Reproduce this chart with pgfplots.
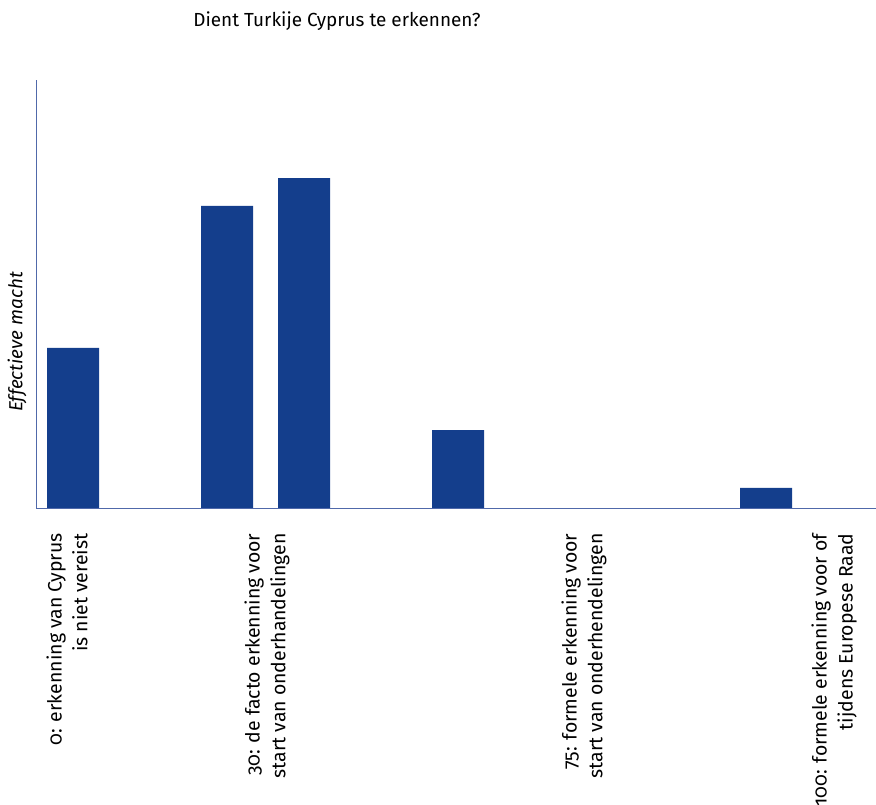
\documentclass[border=0pt]{standalone}
\usepackage{pgfplots}
\pgfplotsset{compat=1.18}
\usepackage{fontspec}
\setmainfont{Fira Sans}[Numbers=OldStyle]
\definecolor{barblue}{RGB}{20,62,140}
\definecolor{axisblue}{RGB}{80,105,170}
\begin{document}
\begin{tikzpicture}[x=1bp,y=1bp]
\useasboundingbox (0,0) rectangle (876,805);
\begin{axis}[
  at={(36bp,297bp)}, anchor=south west,
  scale only axis, width=840bp, height=428bp,
  xmin=-0.4805, xmax=10.428, ymin=0, ymax=100,
  axis x line*=bottom, axis y line*=left,
  axis line style={axisblue, line width=0.9pt, -},
  ytick=\empty,
  xtick={-0.078,2.519,6.636,9.883},
  xticklabels={{0: erkenning van Cyprus\\is niet vereist},
               {30: de facto erkenning voor\\start van onderhandelingen},
               {75: formele erkenning voor\\start van onderhendelingen},
               {100: formele erkenning voor of\\tijdens Europese Raad}},
  major tick length=0pt,
  xticklabel shift=22bp,
  xticklabel style={rotate=90, anchor=east, align=right, font=\fontsize{19.5}{26}\selectfont},
  ylabel={\itshape Effectieve macht},
  ylabel style={at={(axis description cs:-0.0226,0.388)}, anchor=center, rotate=0, font=\fontsize{19}{22}\selectfont},
  clip=false,
]
\addplot[ybar, bar width=52bp, fill=barblue, draw=none] coordinates {
  (0,37.4) (2,70.6) (3,77.1) (5,18.2) (9,4.7)
};
\end{axis}
\node[font=\fontsize{19}{22}\selectfont] at (337,784) {Dient Turkije Cyprus te erkennen?};
\end{tikzpicture}
\end{document}
